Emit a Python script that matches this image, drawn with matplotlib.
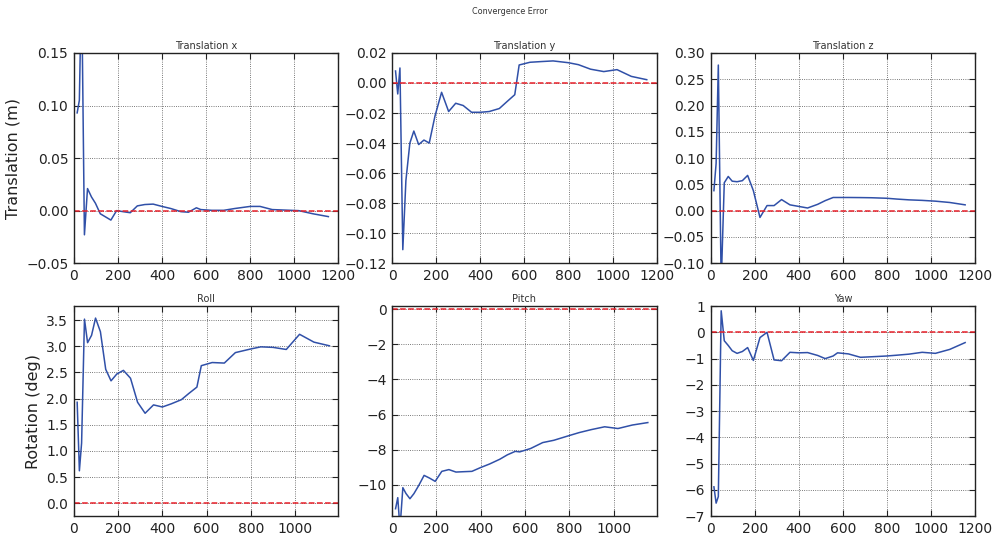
import numpy as np
import matplotlib
matplotlib.use("Agg")
import matplotlib.pyplot as plt
from matplotlib.ticker import MultipleLocator

# frame index of each estimate
frames = [15, 25, 35, 48, 62, 80, 98, 120, 144, 168, 194, 224, 256, 288, 322, 360,
          400, 440, 486, 520, 556, 576, 625, 680, 730, 800, 845, 900, 960, 1020, 1085, 1155]

err_tx = [0.093, 0.105, 0.22, -0.023, 0.021, 0.013, 0.007, -0.003, -0.006, -0.009, 0.0,
          -0.001, -0.002, 0.0045, 0.0058, 0.0062, 0.004, 0.002, -0.001, -0.0015, 0.0027,
          0.001, 0.0003, 0.0003, 0.002, 0.004, 0.004, 0.001, 0.0005, 0.0, -0.003, -0.0057]
err_ty = [0.008, -0.0073, 0.010, -0.111, -0.065, -0.040, -0.032, -0.041, -0.038, -0.040,
          -0.022, -0.0062, -0.019, -0.0135, -0.015, -0.0195, -0.0195, -0.019, -0.017,
          -0.0125, -0.0078, 0.012, 0.0138, 0.0143, 0.0147, 0.0135, 0.0122, 0.0092, 0.0076,
          0.0089, 0.0044, 0.0022]
err_tz = [0.038, 0.09, 0.277, -0.14, 0.053, 0.065, 0.056, 0.055, 0.057, 0.067, 0.038,
          -0.013, 0.0096, 0.0096, 0.021, 0.011, 0.008, 0.005, 0.012, 0.019, 0.025, 0.025,
          0.025, 0.0248, 0.0245, 0.0235, 0.022, 0.0205, 0.0195, 0.018, 0.0155, 0.011]
err_roll = [1.93, 0.62, 1.15, 3.52, 3.07, 3.21, 3.54, 3.28, 2.56, 2.34, 2.47, 2.54, 2.39,
            1.93, 1.72, 1.88, 1.84, 1.90, 1.98, 2.10, 2.22, 2.63, 2.69, 2.68, 2.88, 2.95,
            2.99, 2.98, 2.94, 3.23, 3.08, 3.01]
err_pitch = [-11.37, -10.74, -12.5, -10.17, -10.5, -10.8, -10.51, -10.04, -9.47, -9.62,
             -9.81, -9.24, -9.14, -9.28, -9.26, -9.24, -9.02, -8.82, -8.55, -8.30, -8.10,
             -8.13, -7.94, -7.6, -7.47, -7.2, -7.03, -6.86, -6.70, -6.80, -6.60, -6.46]
err_yaw = [-5.88, -6.5, -6.25, 0.82, -0.32, -0.5, -0.7, -0.8, -0.73, -0.58, -1.07, -0.2,
           0.0, -1.05, -1.08, -0.76, -0.78, -0.77, -0.88, -1.0, -0.9, -0.78, -0.82, -0.95,
           -0.93, -0.9, -0.87, -0.83, -0.76, -0.8, -0.65, -0.39]

plt.rcParams["font.family"] = "DejaVu Sans"
plt.rcParams["xtick.direction"] = "in"
plt.rcParams["ytick.direction"] = "in"
plt.rcParams["xtick.top"] = True
plt.rcParams["ytick.right"] = True

fig, axs = plt.subplots(2, 3, figsize=(9.98, 5.35), dpi=100)
fig.subplots_adjust(left=0.074, right=0.977, top=0.901, bottom=0.035,
                    wspace=0.204, hspace=0.204)


def plot_error(ax, y, title, ylim, ystep, xmax=1200):
    ax.plot(frames, y, color="#3050a8", lw=1.1)
    ax.axhline(0, color="#e8202a", ls="--", lw=1.1)
    ax.set_xlim(0, xmax)
    ax.set_ylim(*ylim)
    ax.xaxis.set_major_locator(MultipleLocator(200))
    ax.yaxis.set_major_locator(MultipleLocator(ystep))
    ax.grid(True, color="0.3", ls=":", lw=0.6)
    ax.set_title(title, fontsize=7, color="#333333", pad=3)
    ax.tick_params(labelsize=10, length=4, width=0.8, colors="#222222", pad=4)
    for s in ax.spines.values():
        s.set_color("#222222")
        s.set_linewidth(1.0)


plot_error(axs[0, 0], err_tx, "Translation x", (-0.05, 0.15), 0.05)
plot_error(axs[0, 1], err_ty, "Translation y", (-0.12, 0.02), 0.02)
plot_error(axs[0, 2], err_tz, "Translation z", (-0.10, 0.30), 0.05)
plot_error(axs[1, 0], err_roll, "Roll", (-0.25, 3.77), 0.5, xmax=1195)
plot_error(axs[1, 1], err_pitch, "Pitch", (-11.8, 0.18), 2, xmax=1195)
plot_error(axs[1, 2], err_yaw, "Yaw", (-7, 1), 1)

axs[0, 0].set_ylabel("Translation (m)", fontsize=11.5, color="#222222")
axs[1, 0].set_ylabel("Rotation (deg)", fontsize=11.5, color="#222222")

fig.text(0.511, 0.978, "Convergence Error", fontsize=5.8, color="#333333",
         ha="center", va="center")

fig.savefig("out.png", dpi=100)
